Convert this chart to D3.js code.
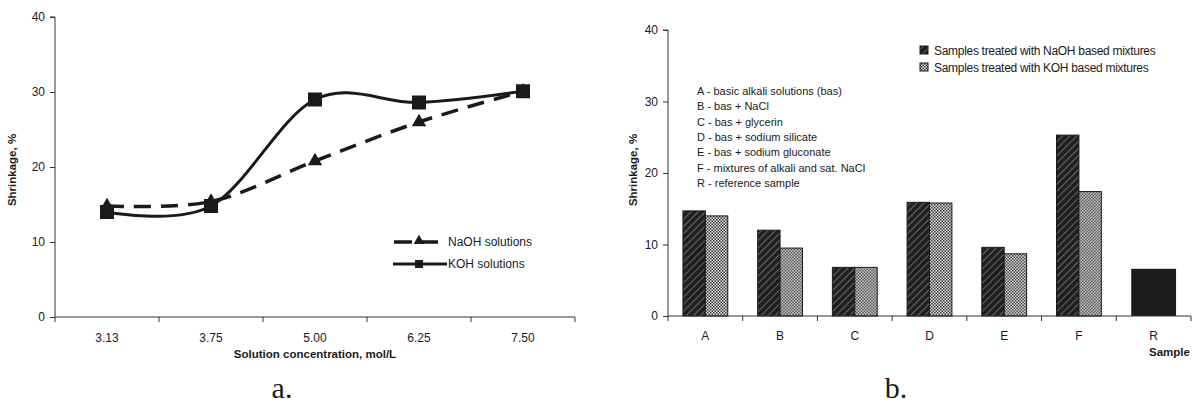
<!DOCTYPE html>
<html>
<head>
<meta charset="utf-8">
<script src="https://cdn.jsdelivr.net/npm/d3@7"></script>
<style>
  body { margin: 0; background: #fff; }
  svg { display: block; font-family: "Liberation Sans", Arial, sans-serif; }
  .tick text { font-size: 12px; fill: #1a1a1a; }
  .axis path, .axis line { stroke: #333; }
  .title { font-size: 11.5px; font-weight: bold; fill: #1a1a1a; }
  .panel-letter { font-family: "Liberation Serif", "DejaVu Serif", serif; font-size: 30px; fill: #1a1a1a; }
</style>
</head>
<body>
<script>
// ============== Data ==============
const concentrations = ['3.13', '3.75', '5.00', '6.25', '7.50'];
const naohSolutions = [14.8, 15.4, 20.8, 26.0, 30.1];
const kohSolutions = [14.0, 14.8, 29.0, 28.6, 30.1];

const samples = ['A', 'B', 'C', 'D', 'E', 'F', 'R'];
const naohMixtures = [14.7, 12.0, 6.8, 15.9, 9.6, 25.3, null];
const kohMixtures = [14.0, 9.5, 6.8, 15.8, 8.7, 17.4, null];
const referenceSample = [null, null, null, null, null, null, 6.6];

const sampleNotes = [
  'A - basic alkali solutions (bas)',
  'B - bas + NaCl',
  'C - bas + glycerin',
  'D - bas + sodium silicate',
  'E - bas + sodium gluconate',
  'F - mixtures of alkali and sat. NaCl',
  'R - reference sample'
];
const yTicks = [0, 10, 20, 30, 40];

const ink = '#1a1a1a';

const svg = d3.select('body').append('svg')
  .attr('width', 1198)
  .attr('height', 406);

// ============== Patterns ==============
const defs = svg.append('defs');

const hatch = defs.append('pattern')
  .attr('id', 'hatch')
  .attr('patternUnits', 'userSpaceOnUse')
  .attr('width', 5).attr('height', 5)
  .attr('patternTransform', 'rotate(45)');
hatch.append('rect').attr('width', 5).attr('height', 5).attr('fill', '#202020');
hatch.append('rect').attr('x', 0).attr('width', 0.8).attr('height', 5).attr('fill', '#7a7a7a');

const dots = defs.append('pattern')
  .attr('id', 'dots')
  .attr('patternUnits', 'userSpaceOnUse')
  .attr('width', 3).attr('height', 3);
dots.append('rect').attr('width', 3).attr('height', 3).attr('fill', '#f2f2f2');
dots.append('rect').attr('x', 0).attr('y', 0).attr('width', 1.5).attr('height', 1.5).attr('fill', '#2a2a2a');
dots.append('rect').attr('x', 1.5).attr('y', 1.5).attr('width', 1.5).attr('height', 1.5).attr('fill', '#2a2a2a');


// ============== Chart a ==============
const xA = d3.scaleBand().domain(concentrations).range([55, 575]);
const yA = d3.scaleLinear().domain([0, 40]).range([317, 17]);

const gA = svg.append('g');

gA.append('g')
  .attr('class', 'axis')
  .attr('transform', 'translate(55,0)')
  .call(d3.axisLeft(yA).tickValues(yTicks).tickSize(5).tickPadding(5).tickFormat(d3.format('d')))
  .call(g => g.select('.domain').attr('d', `M-5,${yA(40)}H0V${yA(0)}`));

// x axis: line + boundary ticks + centred labels
gA.append('line')
  .attr('x1', 55).attr('x2', 575)
  .attr('y1', yA(0)).attr('y2', yA(0))
  .attr('stroke', '#333');
gA.selectAll('.xtick-a')
  .data(concentrations.map(c => xA(c)).concat([xA.range()[1]]))
  .join('line')
  .attr('class', 'xtick-a')
  .attr('x1', d => d).attr('x2', d => d)
  .attr('y1', yA(0)).attr('y2', yA(0) + 5)
  .attr('stroke', '#333');
gA.selectAll('.xlab-a')
  .data(concentrations)
  .join('text')
  .attr('class', 'xlab-a')
  .attr('x', d => xA(d) + xA.bandwidth() / 2)
  .attr('y', 342)
  .attr('text-anchor', 'middle')
  .attr('font-size', 12)
  .attr('fill', ink)
  .text(d => d);

gA.append('text')
  .attr('class', 'title')
  .attr('x', 315).attr('y', 358)
  .attr('text-anchor', 'middle')
  .text('Solution concentration, mol/L');

gA.append('text')
  .attr('class', 'title')
  .attr('transform', 'translate(16,170) rotate(-90)')
  .attr('text-anchor', 'middle')
  .text('Shrinkage, %');

const cx = d => xA(d) + xA.bandwidth() / 2;
const curve = d3.curveCardinal.tension(0);

const lineSol = d3.line()
  .x((d, i) => cx(concentrations[i]))
  .y(d => yA(d))
  .curve(curve);

gA.append('path')
  .attr('d', lineSol(naohSolutions))
  .attr('fill', 'none')
  .attr('stroke', ink)
  .attr('stroke-width', 3.5)
  .attr('stroke-dasharray', '17,10');

gA.append('path')
  .attr('d', lineSol(kohSolutions))
  .attr('fill', 'none')
  .attr('stroke', ink)
  .attr('stroke-width', 3);

const triangle = d3.symbol().type(d3.symbolTriangle).size(90);

gA.selectAll('.tri')
  .data(naohSolutions)
  .join('path')
  .attr('class', 'tri')
  .attr('d', triangle)
  .attr('transform', (d, i) => `translate(${cx(concentrations[i])},${yA(d)})`)
  .attr('fill', ink);

gA.selectAll('.sq')
  .data(kohSolutions)
  .join('rect')
  .attr('class', 'sq')
  .attr('x', (d, i) => cx(concentrations[i]) - 7)
  .attr('y', d => yA(d) - 7)
  .attr('width', 14).attr('height', 14)
  .attr('fill', ink);

// legend a
const legA = gA.append('g');
legA.append('line')
  .attr('x1', 394).attr('x2', 446).attr('y1', 242).attr('y2', 242)
  .attr('stroke', ink).attr('stroke-width', 3.5).attr('stroke-dasharray', '18,8');
legA.append('path')
  .attr('d', d3.symbol().type(d3.symbolTriangle).size(50))
  .attr('transform', 'translate(419,241)')
  .attr('fill', ink);
legA.append('text')
  .attr('x', 448).attr('y', 246)
  .attr('font-size', 12).attr('fill', ink)
  .text('NaOH solutions');
legA.append('line')
  .attr('x1', 393).attr('x2', 447).attr('y1', 264).attr('y2', 264)
  .attr('stroke', ink).attr('stroke-width', 3);
legA.append('rect')
  .attr('x', 415).attr('y', 260).attr('width', 8).attr('height', 8)
  .attr('fill', ink);
legA.append('text')
  .attr('x', 448).attr('y', 268)
  .attr('font-size', 12).attr('fill', ink)
  .text('KOH solutions');

gA.append('text')
  .attr('class', 'panel-letter')
  .attr('x', 282).attr('y', 398)
  .attr('text-anchor', 'middle')
  .text('a.');


// ============== Chart b ==============
const xB = d3.scaleBand().domain(samples).range([668, 1191]).paddingInner(0.4).paddingOuter(0.2);
const xBands = d3.scaleBand().domain(samples).range([668, 1191]);
const yB = d3.scaleLinear().domain([0, 40]).range([316, 30]);
const xSub = d3.scaleBand().domain(['naoh', 'koh']).range([0, xB.bandwidth()]);

const gB = svg.append('g');

gB.append('g')
  .attr('class', 'axis')
  .attr('transform', 'translate(668,0)')
  .call(d3.axisLeft(yB).tickValues(yTicks).tickSize(5).tickPadding(5).tickFormat(d3.format('d')))
  .call(g => g.select('.domain').attr('d', `M-5,${yB(40)}H0V${yB(0)}`));

// bars
const barGroups = gB.selectAll('.group')
  .data(samples)
  .join('g')
  .attr('class', 'group')
  .attr('transform', d => `translate(${xB(d)},0)`);

barGroups.filter((d, i) => naohMixtures[i] !== null)
  .append('rect')
  .attr('x', xSub('naoh'))
  .attr('y', d => yB(naohMixtures[samples.indexOf(d)]))
  .attr('width', xSub.bandwidth())
  .attr('height', d => yB(0) - yB(naohMixtures[samples.indexOf(d)]))
  .attr('fill', 'url(#hatch)')
  .attr('stroke', ink).attr('stroke-width', 1);

barGroups.filter((d, i) => kohMixtures[i] !== null)
  .append('rect')
  .attr('x', xSub('koh'))
  .attr('y', d => yB(kohMixtures[samples.indexOf(d)]))
  .attr('width', xSub.bandwidth())
  .attr('height', d => yB(0) - yB(kohMixtures[samples.indexOf(d)]))
  .attr('fill', 'url(#dots)')
  .attr('stroke', ink).attr('stroke-width', 1);

barGroups.filter((d, i) => referenceSample[i] !== null)
  .append('rect')
  .attr('x', 0)
  .attr('y', d => yB(referenceSample[samples.indexOf(d)]))
  .attr('width', xB.bandwidth())
  .attr('height', d => yB(0) - yB(referenceSample[samples.indexOf(d)]))
  .attr('fill', '#1c1c1c');

// x axis b
gB.append('line')
  .attr('x1', 668).attr('x2', 1191)
  .attr('y1', yB(0)).attr('y2', yB(0))
  .attr('stroke', '#333');
gB.selectAll('.xtick-b')
  .data(samples.map(s => xBands(s)).concat([xBands.range()[1]]))
  .join('line')
  .attr('class', 'xtick-b')
  .attr('x1', d => d).attr('x2', d => d)
  .attr('y1', yB(0)).attr('y2', yB(0) + 5)
  .attr('stroke', '#333');
gB.selectAll('.xlab-b')
  .data(samples)
  .join('text')
  .attr('class', 'xlab-b')
  .attr('x', d => xBands(d) + xBands.bandwidth() / 2)
  .attr('y', 340)
  .attr('text-anchor', 'middle')
  .attr('font-size', 12)
  .attr('fill', ink)
  .text(d => d);

gB.append('text')
  .attr('class', 'title')
  .attr('x', 1149).attr('y', 356)
  .text('Sample');

gB.append('text')
  .attr('class', 'title')
  .attr('transform', 'translate(637,170) rotate(-90)')
  .attr('text-anchor', 'middle')
  .text('Shrinkage, %');

// sample notes
gB.selectAll('.note')
  .data(sampleNotes)
  .join('text')
  .attr('class', 'note')
  .attr('x', 697)
  .attr('y', (d, i) => 95 + i * 15.3)
  .attr('font-size', 11)
  .attr('fill', ink)
  .text(d => d);

// legend b
const legB = gB.append('g');
[
  {fill: 'url(#hatch)', label: 'Samples treated with NaOH based mixtures', y: 50},
  {fill: 'url(#dots)', label: 'Samples treated with KOH based mixtures', y: 67}
].forEach(d => {
  legB.append('rect')
    .attr('x', 920).attr('y', d.y - 4).attr('width', 8).attr('height', 8)
    .attr('fill', d.fill).attr('stroke', ink).attr('stroke-width', 1);
  legB.append('text')
    .attr('x', 934).attr('y', d.y + 4.5)
    .attr('font-size', 12).attr('fill', ink)
    .attr('letter-spacing', -0.3)
    .text(d.label);
});

gB.append('text')
  .attr('class', 'panel-letter')
  .attr('x', 896).attr('y', 398)
  .attr('text-anchor', 'middle')
  .text('b.');
</script>
</body>
</html>
